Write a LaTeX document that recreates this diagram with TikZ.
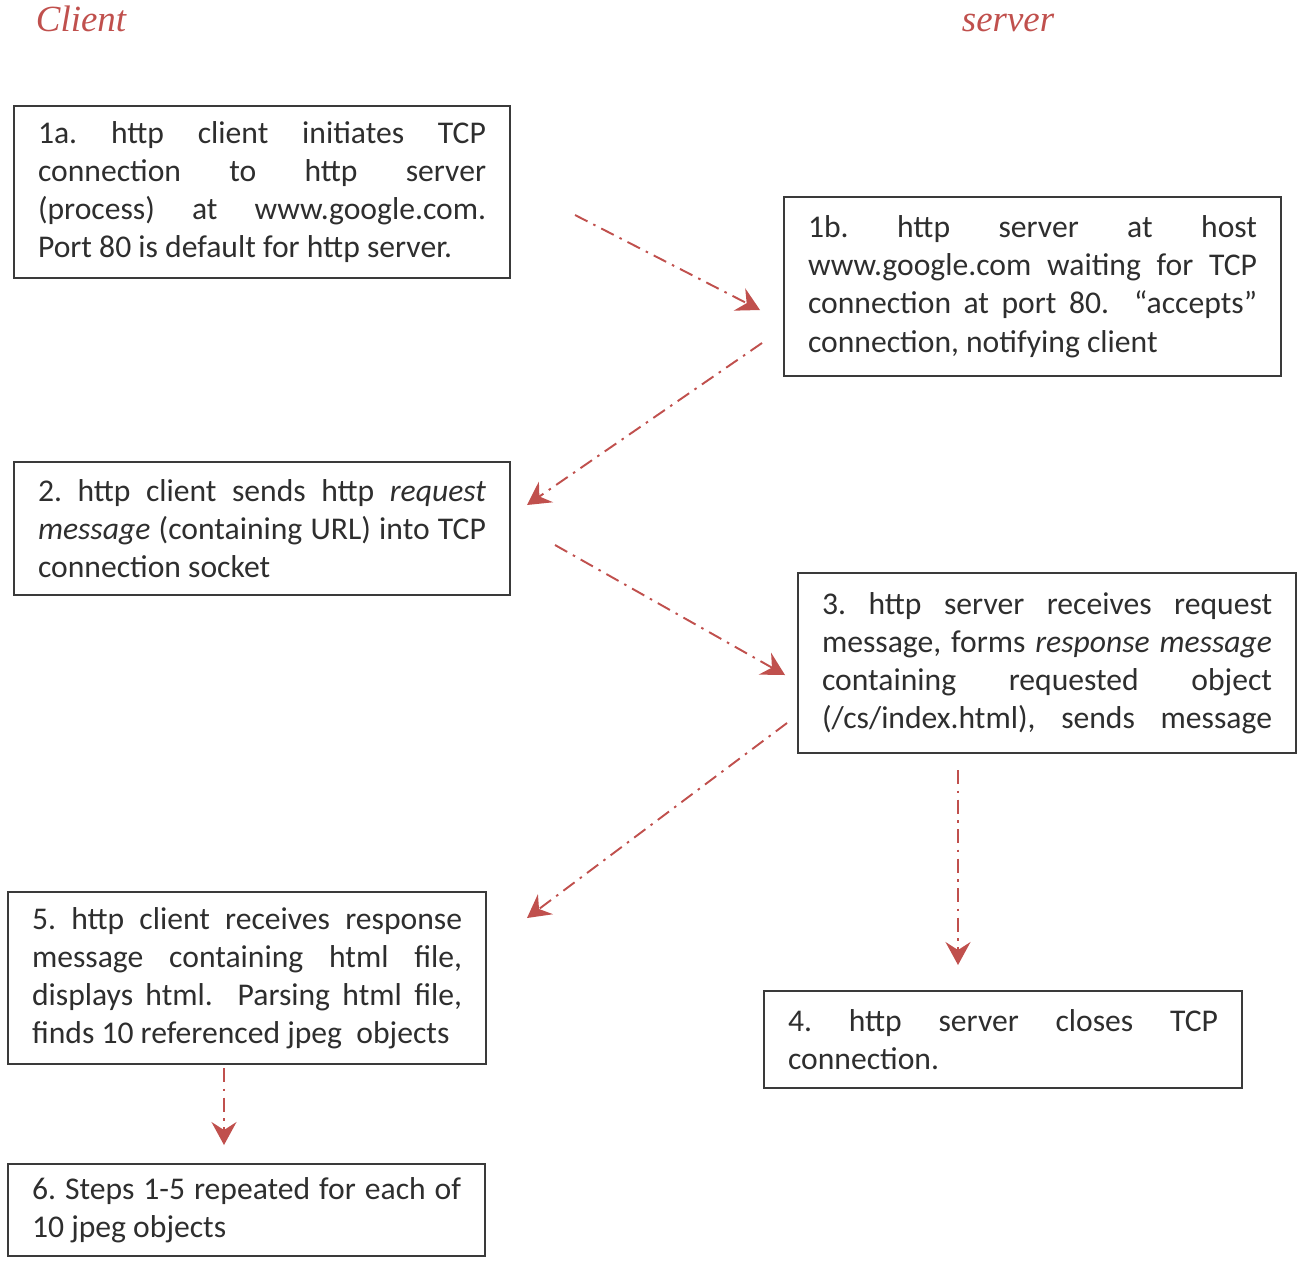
\documentclass[tikz,border=0pt]{standalone}
\usepackage{fontspec}
\setmainfont{Carlito}
\newfontfamily\headfont{Liberation Serif}
\usetikzlibrary{arrows.meta}
\definecolor{flowred}{HTML}{C0504D}
\definecolor{boxgray}{HTML}{3A3A3A}
\definecolor{textgray}{HTML}{2E2E2E}
% one justified line of a box
\newcommand{\jline}[1]{\hbox to \hsize{\spaceskip=0pt\xspaceskip=0pt #1}}
\begin{document}
\begin{tikzpicture}
  [every node/.style={font=\fontsize{18}{21.7}\selectfont\frenchspacing,text=textgray}]
  \tikzstyle{stepbox} = [draw=boxgray,line width=1.2pt,shape=rectangle,anchor=north west,inner xsep=0.48cm,align=justify]
  \tikzstyle{head} = [font=\headfont\itshape\fontsize{21}{24}\selectfont,text=flowred,anchor=base]
  \tikzstyle{flow} = [flowred,line width=1.1pt,dash pattern=on 0.28cm off 0.13cm on 0.05cm off 0.13cm,-{Stealth[length=0.46cm,width=0.5cm,inset=0.16cm]}]
  \useasboundingbox (0,0) rectangle (25.96,-25.28);
  \node[head] (client) at (1.62,-0.62) {Client};
  \node[head] (server) at (20.16,-0.62) {server};
  \node[stepbox,text width=8.96cm,minimum height=3.44cm] (n1a) at (0.26,-2.10)
    {\jline{1a. http client initiates TCP}
     \jline{connection to http server}
     \jline{(process) at www.google.com.}
     Port 80 is default for http server.};
  \node[stepbox,text width=8.98cm,minimum height=3.58cm] (n1b) at (15.66,-3.92)
    {\jline{1b. http server at host}
     \jline{www.google.com waiting for TCP}
     \jline{connection at port 80. \ “accepts”}
     connection, notifying client};
  \node[stepbox,text width=8.96cm,minimum height=2.66cm] (n2) at (0.26,-9.22)
    {\jline{2. http client sends http \textit{request}}
     \jline{\textit{message} (containing URL) into TCP}
     connection socket};
  \node[stepbox,text width=9.00cm,minimum height=3.60cm] (n3) at (15.94,-11.44)
    {\jline{3. http server receives request}
     \jline{message, forms \textit{response message}}
     \jline{containing requested object}
     \jline{(/cs/index.html), sends message}};
  \node[stepbox,text width=8.60cm,minimum height=3.44cm] (n5) at (0.14,-17.82)
    {\jline{5. http client receives response}
     \jline{message containing html file,}
     \jline{displays html. \ Parsing html file,}
     finds 10 referenced jpeg \ objects};
  \node[stepbox,text width=8.60cm,minimum height=1.94cm] (n4) at (15.26,-19.80)
    {\jline{4. http server closes TCP}
     connection.};
  \node[stepbox,text width=8.58cm,minimum height=1.84cm] (n6) at (0.14,-23.26)
    {\jline{6. Steps 1-5 repeated for each of}
     10 jpeg objects};
  % loose ends of the arrows
  \coordinate (out1a) at (11.50,-4.30);  \coordinate (in1b) at (15.20,-6.20);
  \coordinate (out1b) at (15.24,-6.86);  \coordinate (in2) at (10.54,-10.10);
  \coordinate (out2) at (11.10,-10.90);  \coordinate (in3) at (15.70,-13.50);
  \coordinate (out3) at (15.74,-14.46);  \coordinate (in5) at (10.54,-18.36);
  \coordinate (down3) at (19.16,-15.40); \coordinate (in4) at (19.16,-19.30);
  \coordinate (out5) at (4.48,-21.36);   \coordinate (in6) at (4.48,-22.90);
  \foreach \source/\dest in {out1a/in1b,out1b/in2,out2/in3,out3/in5,down3/in4,out5/in6}
    \draw[flow] (\source) -- (\dest);
\end{tikzpicture}
\end{document}
